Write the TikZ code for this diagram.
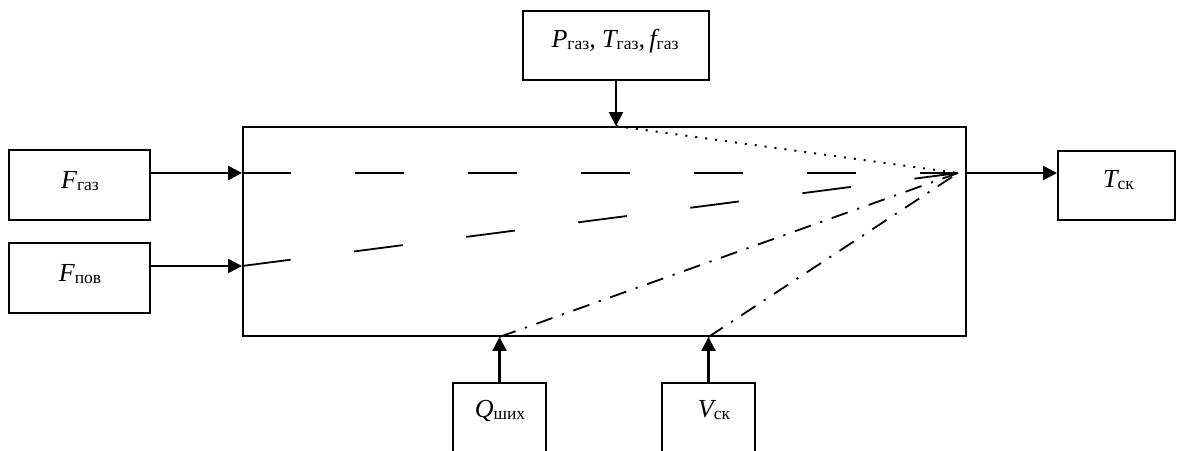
\documentclass[tikz,border=0pt]{standalone}
\usepackage{fontspec}
\setmainfont{Liberation Serif}
\usetikzlibrary{arrows.meta}
\newcommand\sbx[1]{\raisebox{-2.5pt}{\upshape\fontsize{17.5}{17.5}\selectfont #1}}
\begin{document}
\begin{tikzpicture}[x=1pt,y=-1pt,
  box/.style={draw,line width=1.9pt,inner sep=0pt,fill=none},
  lbl/.style={font=\fontsize{26}{26}\selectfont\itshape,inner sep=0pt,anchor=base},
  arr/.style={line width=2.4pt,-{Triangle[length=14pt,width=14pt]}},
  inner/.style={line width=1.8pt},
  longdash/.style={inner,dash pattern=on 49pt off 64pt},
  dotline/.style={line width=2pt,dash pattern=on 2pt off 8pt},
  dashdotline/.style={inner,dash pattern=on 17pt off 10pt on 2.2pt off 10pt}]
\useasboundingbox[fill=white] (0,0) rectangle (1178,450);
% boxes
\node[box,minimum width=186pt,minimum height=69pt] (top) at (616,45.5) {};
\node[lbl] (toptxt) at (615,47) {P\sbx{газ}, T\sbx{газ},\,f\sbx{газ}};
\node[box,minimum width=723pt,minimum height=209pt] (main) at (604.5,231.5) {};
\node[box,minimum width=141pt,minimum height=70pt] (fgaz) at (79.5,185) {};
\node[lbl] (fgaztxt) at (80,188) {F\sbx{газ}};
\node[box,minimum width=141pt,minimum height=70pt] (fpov) at (79.5,278) {};
\node[lbl] (fpovtxt) at (80,281) {F\sbx{пов}};
\node[box,minimum width=117pt,minimum height=69pt] (tsk) at (1116.5,185.5) {};
\node[lbl] (tsktxt) at (1118.5,187) {T\sbx{ск}};
\node[box,minimum width=93pt,minimum height=97pt] (qbox) at (499.5,431.5) {};
\node[lbl] (qtxt) at (500,417) {Q\sbx{шиx}};
\node[box,minimum width=93pt,minimum height=97pt] (vbox) at (708.5,431.5) {};
\node[lbl] (vtxt) at (714,417) {V\sbx{ск}};
% helper coordinates
\coordinate (c1) at (0,173);
\coordinate (c2) at (0,266);
\coordinate (conv) at (958,173);
% arrows
\draw[arr] (fgaz.east |- c1) -- (main.west |- c1);
\draw[arr] (fpov.east |- c2) -- (main.west |- c2);
\draw[arr] (main.east |- c1) -- (tsk.west |- c1);
\draw[arr] (top.south) -- (main.north -| top.south);
\draw[arr] (qbox.north) -- (main.south -| qbox.north);
\draw[arr] (vbox.north) -- (main.south -| vbox.north);
% inner lines
\draw[longdash] (main.west |- c1) -- (conv);
\draw[longdash] (main.west |- c2) -- (conv);
\draw[dotline] (main.north -| top.south) -- (conv);
\draw[dashdotline] (main.south -| qbox.north) -- (conv);
\draw[dashdotline] (main.south -| vbox.north) -- (conv);
\end{tikzpicture}
\end{document}
